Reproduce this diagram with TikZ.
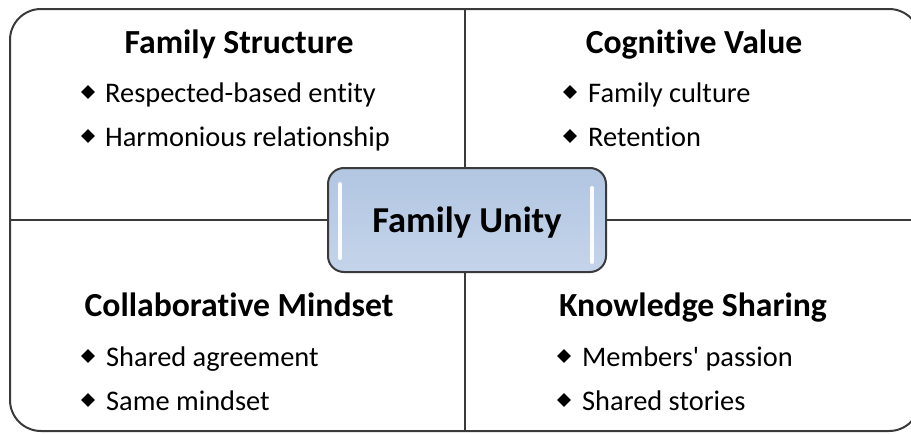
\documentclass[tikz,border=0pt]{standalone}
\usepackage{fontspec}
\setmainfont{Carlito}[Ligatures={TeXOff,NoCommon}]
\usetikzlibrary{shapes.geometric}

\definecolor{frame}{HTML}{3A3A3A}
\definecolor{hubtop}{HTML}{B2C6E2}
\definecolor{hubbot}{HTML}{C4D4EA}

\tikzset{
  heading/.style={anchor=base, inner sep=0pt, font=\bfseries\fontsize{33.7}{36}\selectfont},
  item/.style={anchor=base west, inner sep=0pt, font=\fontsize{28.4}{32}\selectfont},
  bul/.style={diamond, fill=black, draw=none, inner sep=0pt, minimum width=14pt, minimum height=14pt},
  divider/.style={draw=frame, line width=2pt},
  hub/.style={rounded corners=16pt, draw=frame, line width=2pt, top color=hubtop, bottom color=hubbot},
  gloss/.style={draw=white, line width=4pt, line cap=round, opacity=0.95}
}

\begin{document}
\begin{tikzpicture}[x=1pt,y=-1pt]
\useasboundingbox (0,0) rectangle (911,434);

% outer frame and quadrant dividers
\draw[divider, rounded corners=31pt] (10,9) rectangle (920,431);
\coordinate (hl) at (10,220);
\coordinate (hr) at (920,220);
\coordinate (vt) at (465,9);
\coordinate (vb) at (465,431);
\draw[divider] (hl) -- (hr);
\draw[divider] (vt) -- (vb);

% central hub
\path[hub] (328,168) rectangle (606,272);
\coordinate (g1a) at (340,184);
\coordinate (g1b) at (340,258);
\coordinate (g2a) at (592,188);
\coordinate (g2b) at (592,262);
\draw[gloss] (g1a) -- (g1b);
\draw[gloss] (g2a) -- (g2b);
\node[anchor=base, inner sep=0pt, font=\bfseries\fontsize{36.5}{40}\selectfont] (hubtext) at (467,232) {Family Unity};

% top left quadrant
\node[heading] (fs) at (239,53) {Family Structure};
\node[bul] (fs1b) at (88,92) {};
\node[item] (fs1) at (105,102) {Respected-based entity};
\node[bul] (fs2b) at (88,136) {};
\node[item] (fs2) at (105,146) {Harmonious relationship};

% top right quadrant
\node[heading] (cv) at (694,53) {Cognitive Value};
\node[bul] (cv1b) at (570,92) {};
\node[item] (cv1) at (588,102) {Family culture};
\node[bul] (cv2b) at (570,136) {};
\node[item] (cv2) at (588,146) {Retention};

% bottom left quadrant
\node[heading] (cm) at (239,316) {Collaborative Mindset};
\node[bul] (cm1b) at (88,356) {};
\node[item] (cm1) at (106,366) {Shared agreement};
\node[bul] (cm2b) at (88,400) {};
\node[item] (cm2) at (106,410) {Same mindset};

% bottom right quadrant
\node[heading] (ks) at (693,316) {Knowledge Sharing};
\node[bul] (ks1b) at (564,356) {};
\node[item] (ks1) at (582,366) {Members'{} passion};
\node[bul] (ks2b) at (564,400) {};
\node[item] (ks2) at (582,410) {Shared stories};
\end{tikzpicture}
\end{document}
